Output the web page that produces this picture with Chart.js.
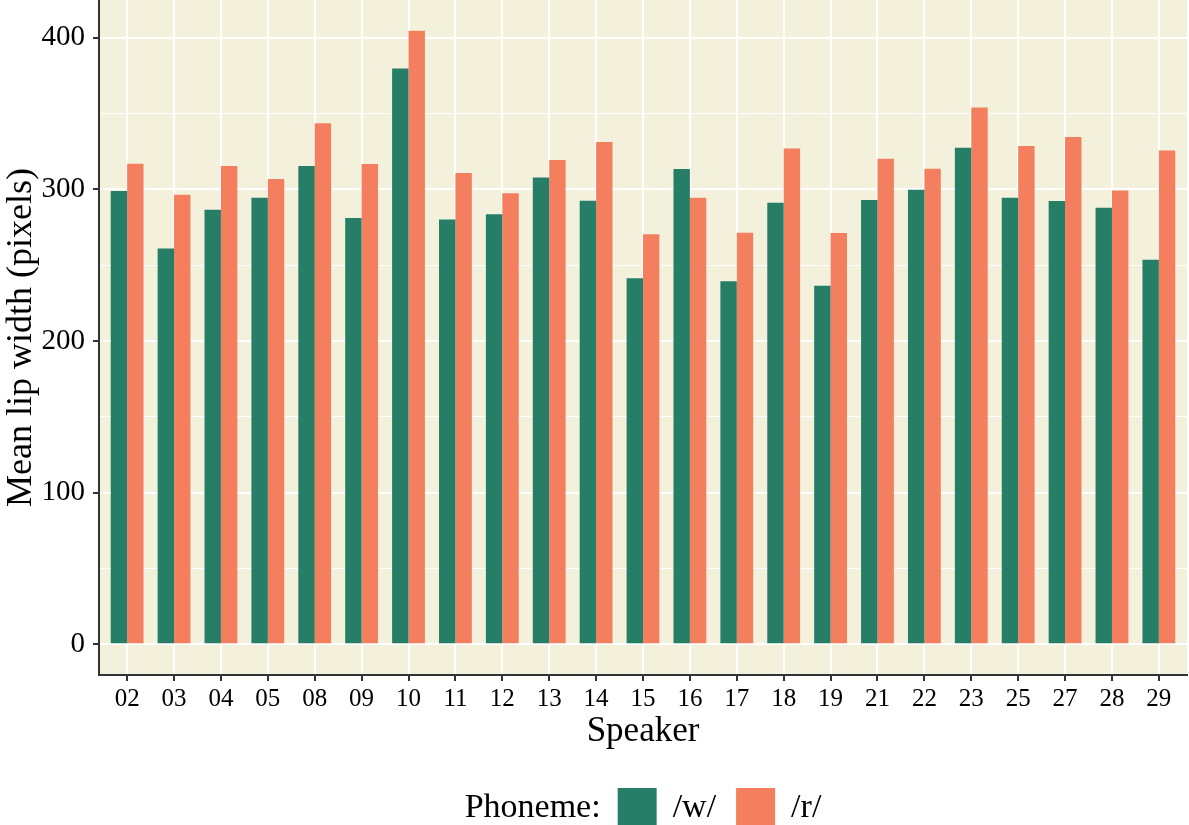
<!DOCTYPE html>
<html>
<head>
<meta charset="utf-8">
<script src="https://cdn.jsdelivr.net/npm/chart.js@4"></script>
<style>
  html, body { margin: 0; padding: 0; background: #ffffff; }
  canvas { display: block; }
</style>
</head>
<body>
<canvas id="grafico" width="1189" height="825"></canvas>
<script>
// speakers on the x axis
const speakers = ['02', '03', '04', '05', '08', '09', '10', '11', '12', '13', '14', '15',
                  '16', '17', '18', '19', '21', '22', '23', '25', '27', '28', '29'];
// mean lip width per phoneme
const widthW = [298.9, 261.0, 286.6, 294.5, 315.5, 281.1, 379.8, 280.2, 283.7, 307.9, 292.5, 241.4,
                313.5, 239.5, 291.2, 236.4, 293.0, 299.8, 327.4, 294.5, 292.3, 287.9, 253.7];
const widthR = [317.0, 296.5, 315.5, 306.9, 343.6, 316.8, 404.7, 310.8, 297.4, 319.4, 331.3, 270.5,
                294.5, 271.4, 326.9, 271.2, 320.3, 313.7, 354.0, 328.7, 334.6, 299.3, 325.6];
const phonemes = ['/w/', '/r/'];
const yTicks = [0, 50, 100, 150, 200, 250, 300, 350, 400];

const serif = '"Liberation Serif", "DejaVu Serif", serif';
const colores = ['#267E66', '#F47F5E'];

// panel background behind grid
const fondoPanel = {
    id: 'fondoPanel',
    beforeDraw(chart) {
        const { ctx, chartArea: a } = chart;
        ctx.save();
        ctx.fillStyle = '#F3F1DC';
        ctx.fillRect(a.left, a.top, a.right - a.left, a.bottom - a.top);
        ctx.restore();
    }
};

// legend row: "Phoneme:" followed by keys, centred under the panel
const leyenda = {
    id: 'leyenda',
    afterDraw(chart) {
        const { ctx, chartArea: a } = chart;
        const ds = chart.data.datasets;
        const box = 39;
        const baseY = 817;
        ctx.save();
        ctx.font = '34px ' + serif;
        ctx.fillStyle = '#000';
        ctx.textBaseline = 'alphabetic';
        const titulo = 'Phoneme:';
        const wt = ctx.measureText(titulo).width;
        const items = ds.map(d => ({ label: d.label, color: d.backgroundColor, w: ctx.measureText(d.label).width }));
        let total = wt;
        items.forEach((it, i) => { total += 17 + box + 16 + it.w + (i < items.length - 1 ? 3 : 0); });
        let x = (a.left + a.right) / 2 - total / 2;
        ctx.fillText(titulo, x, baseY);
        x += wt;
        items.forEach(it => {
            x += 17;
            ctx.fillStyle = it.color;
            ctx.fillRect(x, 788, box, box);
            x += box + 16;
            ctx.fillStyle = '#000';
            ctx.fillText(it.label, x, baseY);
            x += it.w + 3;
        });
        ctx.restore();
    }
};

new Chart(document.getElementById('grafico'), {
    type: 'bar',
    data: {
        datasets: phonemes.map((p, k) => ({
            label: p,
            data: (k === 0 ? widthW : widthR).map((v, i) => ({ x: i, y: v })),
            backgroundColor: colores[k],
            borderWidth: 0,
            categoryPercentage: 0.7,
            barPercentage: 1.0
        }))
    },
    options: {
        responsive: false,
        animation: false,
        layout: { padding: { top: 0, right: 2, bottom: 0, left: 0 } },
        plugins: { legend: { display: false }, tooltip: { enabled: false } },
        scales: {
            x: {
                type: 'linear',
                offset: false,
                min: -0.6,
                max: speakers.length - 0.4,
                afterBuildTicks: s => { s.ticks = speakers.map((_, i) => ({ value: i })); },
                afterFit: s => { s.height = 150; s.paddingLeft = 0; s.paddingRight = 0; },
                ticks: {
                    autoSkip: false, maxRotation: 0, padding: 3, color: '#000',
                    font: { family: serif, size: 25 },
                    callback: v => speakers[v]
                },
                grid: { offset: false, color: '#ffffff', lineWidth: 2, tickColor: '#333333', tickWidth: 2, tickLength: 6 },
                border: { display: true, color: '#333333', width: 2 },
                title: {
                    display: true, text: 'Speaker', color: '#000',
                    font: { family: serif, size: 35 }, padding: { top: 0, bottom: 72 }
                }
            },
            y: {
                min: -20.2,
                max: 424.9,
                afterBuildTicks: s => { s.ticks = yTicks.map(v => ({ value: v })); },
                afterFit: s => { s.width = 99; s.paddingTop = 0; s.paddingBottom = 0; },
                ticks: {
                    padding: 8, color: '#000',
                    font: { family: serif, size: 29 },
                    callback: v => (v % 100 === 0 ? v : '')
                },
                grid: {
                    color: '#ffffff',
                    lineWidth: c => (c.tick && c.tick.value % 100 === 0 ? 2 : 1),
                    tickColor: c => (c.tick && c.tick.value % 100 === 0 ? '#333333' : 'rgba(0,0,0,0)'),
                    tickWidth: 2, tickLength: 6
                },
                border: { display: true, color: '#333333', width: 2 },
                title: {
                    display: true, text: 'Mean lip width (pixels)', color: '#000',
                    font: { family: serif, size: 36 }, padding: 0
                }
            }
        }
    },
    plugins: [fondoPanel, leyenda]
});
</script>
</body>
</html>
